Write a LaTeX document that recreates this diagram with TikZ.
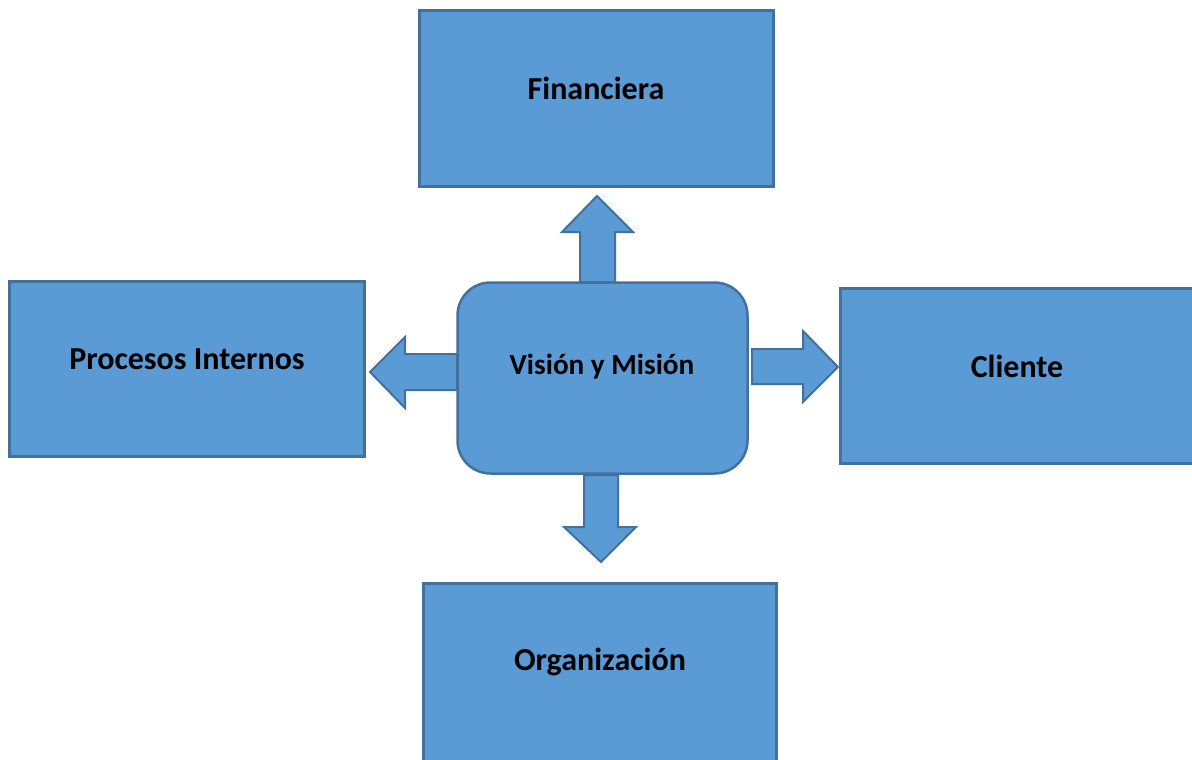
\documentclass[tikz,border=0pt]{standalone}
\usepackage{fontspec}
\setmainfont{Carlito}
\definecolor{boxfill}{HTML}{5B9BD5}
\definecolor{boxline}{HTML}{41719C}
\tikzset{
  blk/.style={draw=boxline, fill=boxfill, line width=2.5pt},
  lbl/.style={font=\bfseries\fontsize{32}{38}\selectfont, text=black},
  clbl/.style={font=\bfseries\fontsize{29.2}{35}\selectfont, text=black},
}
\begin{document}
\begin{tikzpicture}[x=1pt,y=-1pt]
\useasboundingbox (0,0) rectangle (1192,760);
% outer boxes
\draw[blk] (419.5,10.5) rectangle (773.5,186.5);
\node[lbl] (fin) at (596,88) {Financiera};
\draw[blk] (9.5,281.5) rectangle (364.5,456.5);
\node[lbl] (proc) at (187,359) {Procesos Internos};
\draw[blk] (840.5,288.5) rectangle (1196,463.5);
\node[lbl] (cli) at (1017,366) {Cliente};
\draw[blk] (423.5,583.5) rectangle (776.5,762);
\node[lbl] (org) at (600,662) {Organización};
% arrows
\draw[blk, line width=2pt, line join=miter] (580,282) -- (580,232) -- (562,232) -- (597,196) -- (633,232) -- (615,232) -- (615,282) -- cycle;
\draw[blk, line width=2pt, line join=miter] (457,354) -- (405,354) -- (405,337) -- (370,372) -- (405,408) -- (405,390) -- (457,390) -- cycle;
\draw[blk, line width=2pt, line join=miter] (752,349) -- (803,349) -- (803,331) -- (838,367) -- (803,402) -- (803,384) -- (752,384) -- cycle;
\draw[blk, line width=2pt, line join=miter] (584,475) -- (584,527) -- (564,527) -- (601,562) -- (636,527) -- (618,527) -- (618,475) -- cycle;
% center
\draw[blk, rounded corners=33pt] (457.5,282.5) rectangle (747.5,473.5);
\node[clbl] (vm) at (602,367) {Visión y Misión};
\end{tikzpicture}
\end{document}
